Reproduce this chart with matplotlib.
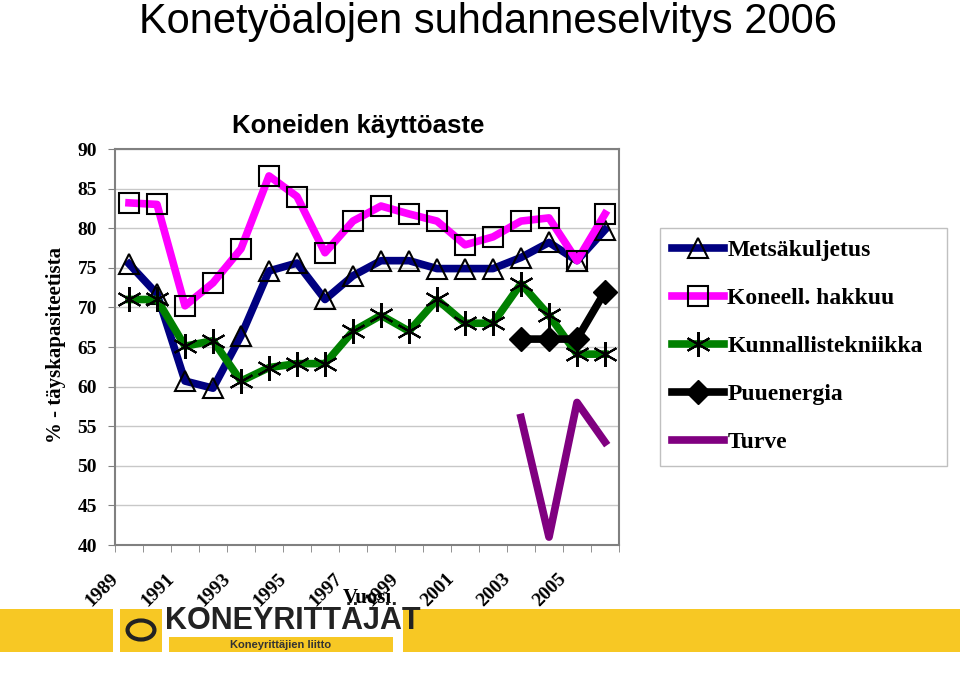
import matplotlib.pyplot as plt
import matplotlib.patches as mpatches
import matplotlib.transforms as mtransforms
import numpy as np

years = list(range(1989, 2007))
metsakuljetus = [75.5, 71.7, 60.7, 59.8, 66.4, 74.6, 75.6, 71.0, 74.0, 75.9,
                 75.9, 74.9, 74.9, 74.9, 76.3, 78.2, 75.9, 79.8]
hakkuu = [83.2, 83.0, 70.2, 73.1, 77.4, 86.6, 84.0, 76.9, 80.9, 82.8,
          81.8, 80.9, 77.9, 78.9, 80.9, 81.3, 75.9, 81.8]
kunnallis = [71.0, 71.0, 65.1, 65.8, 60.7, 62.4, 62.9, 62.9, 67.0, 69.0,
             67.0, 71.0, 68.0, 68.0, 73.0, 69.0, 64.1, 64.1]
puuenergia_years = [2003, 2004, 2005, 2006]
puuenergia = [66.0, 66.0, 66.0, 72.0]
turve_years = [2003, 2004, 2005, 2006]
turve = [56.1, 41.0, 58.0, 53.0]
yticks = [40, 45, 50, 55, 60, 65, 70, 75, 80, 85, 90]

serif = ['Liberation Serif', 'DejaVu Serif']
sans = ['Liberation Sans', 'DejaVu Sans']

fig = plt.figure(figsize=(9.6, 6.79), dpi=100)
ax = fig.add_axes([115 / 960, 1 - 545 / 679, 504 / 960, 396 / 679])

x = np.arange(len(years))
xp = np.array([years.index(y) for y in puuenergia_years])
xt = np.array([years.index(y) for y in turve_years])

lw = 5.5
ax.plot(x, metsakuljetus, color='#000080', lw=lw, marker='^', ms=14,
        mfc='none', mec='black', mew=1.5, label='Metsäkuljetus', zorder=3)
ax.plot(x, hakkuu, color='#ff00ff', lw=lw, marker='s', ms=14,
        mfc='none', mec='black', mew=1.5, label='Koneell. hakkuu', zorder=3)
ax.plot(x, kunnallis, color='#008000', lw=lw, marker=(6, 2, 0), ms=18,
        mec='black', mew=1.5, label='Kunnallistekniikka', zorder=3)
ax.plot(xp, puuenergia, color='black', lw=lw, marker='D', ms=12,
        mfc='black', mec='black', label='Puuenergia', zorder=4)
ax.plot(xt, turve, color='#800080', lw=lw, label='Turve', zorder=3)

ax.set_xlim(-0.5, len(years) - 0.5)
ax.set_ylim(40, 90)
ax.set_yticks(yticks)
ax.set_yticklabels([str(v) for v in yticks], fontfamily=serif,
                   fontweight='bold', fontsize=14)
ax.grid(axis='y', color='#c8c8c8', lw=1)
ax.set_axisbelow(True)

ax.set_xticks(x[::2])
ax.set_xticklabels([str(y) for y in years[::2]], rotation=45, ha='right',
                   rotation_mode='anchor', fontfamily=serif,
                   fontweight='bold', fontsize=14)
ax.tick_params(axis='x', which='major', length=0, pad=18)
shift = mtransforms.ScaledTranslation(-0.19, 0, fig.dpi_scale_trans)
for lab in ax.get_xticklabels():
    lab.set_transform(lab.get_transform() + shift)
ax.set_xticks(np.arange(-0.5, len(years)), minor=True)
ax.tick_params(axis='x', which='minor', length=5, color='#808080')
ax.tick_params(axis='y', length=5, color='#808080', pad=8)
for s in ax.spines.values():
    s.set_color('#808080')
    s.set_linewidth(1.5)

fig.text(367 / 960, 1 - 598 / 679, 'Vuosi', ha='center', va='center',
         fontfamily=serif, fontweight='bold', fontsize=15)
fig.text(56 / 960, 1 - 345 / 679, '% - täyskapasiteetista', rotation=90,
         ha='center', va='center', fontfamily=serif, fontweight='bold',
         fontsize=15)

fig.text(488 / 960, 1 - 22 / 679, 'Konetyöalojen suhdanneselvitys 2006',
         ha='center', va='center', fontfamily=sans, fontsize=30)
fig.text(358 / 960, 1 - 126 / 679, 'Koneiden käyttöaste', ha='center',
         va='center', fontfamily=sans, fontweight='bold', fontsize=18.5)

# legend frame drawn separately so its size matches
fig.add_artist(mpatches.Rectangle((660 / 960, 1 - 466 / 679),
                                  287 / 960, 238 / 679,
                                  transform=fig.transFigure, facecolor='white',
                                  edgecolor='#c0c0c0', lw=1, zorder=1))
leg = fig.legend(loc='upper left', bbox_to_anchor=(660 / 960, 1 - 228 / 679),
                 prop={'family': serif, 'weight': 'bold', 'size': 17},
                 handlelength=2.2, handletextpad=0.15, labelspacing=1.12,
                 borderpad=0.5, frameon=False, borderaxespad=0)
leg.set_zorder(2)

# bottom banner
yellow = '#f7c824'
def box(x0, y0, x1, y1, color):
    fig.add_artist(mpatches.Rectangle((x0 / 960, 1 - y1 / 679),
                                      (x1 - x0) / 960, (y1 - y0) / 679,
                                      transform=fig.transFigure,
                                      facecolor=color, edgecolor='none'))

box(0, 609, 113, 652, yellow)
box(120, 609, 162, 652, yellow)
box(169, 637, 393, 652, yellow)
box(403, 609, 960, 652, yellow)
fig.add_artist(mpatches.Circle((141 / 960, 1 - 630 / 679), 0.014,
                               transform=fig.transFigure, facecolor='none',
                               edgecolor='#222222', lw=3))
fig.text(293 / 960, 1 - 621 / 679, 'KONEYRITTÄJÄT', ha='center', va='center',
         fontfamily=sans, fontweight='bold', fontsize=22, color='#222222')
fig.text(281 / 960, 1 - 645 / 679, 'Koneyrittäjien liitto', ha='center',
         va='center', fontfamily=sans, fontweight='bold', fontsize=8,
         color='#333333')

fig.savefig('out.png', dpi=100)
